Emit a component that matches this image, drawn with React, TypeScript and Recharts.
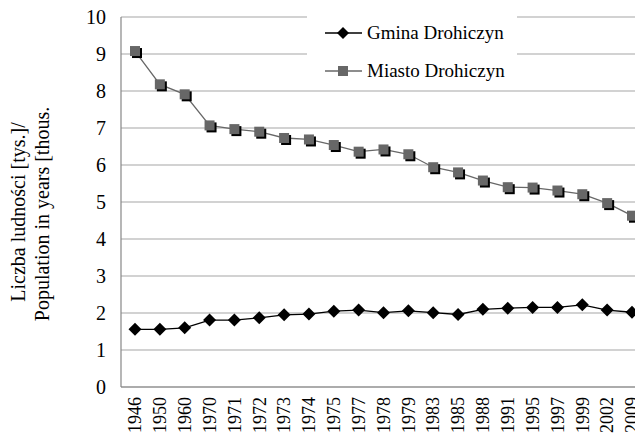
import { LineChart, Line, XAxis, YAxis, CartesianGrid } from "recharts";

// Population of Drohiczyn (thousands)
const YEARS = [
  "1946", "1950", "1960", "1970", "1971", "1972", "1973", "1974", "1975", "1977", "1978",
  "1979", "1983", "1985", "1988", "1991", "1995", "1997", "1999", "2002", "2009",
];
const GMINA = [
  1.56, 1.56, 1.6, 1.81, 1.81, 1.87, 1.95, 1.97, 2.05, 2.08, 2.01,
  2.06, 2.01, 1.96, 2.1, 2.13, 2.15, 2.15, 2.22, 2.08, 2.02,
];
const MIASTO = [
  9.08, 8.18, 7.91, 7.07, 6.97, 6.9, 6.73, 6.69, 6.54, 6.36, 6.42,
  6.29, 5.94, 5.8, 5.58, 5.4, 5.39, 5.31, 5.21, 4.97, 4.63,
];
const Y_TICKS = [0, 1, 2, 3, 4, 5, 6, 7, 8, 9, 10];
const SERIES = [
  { key: "gmina", name: "Gmina Drohiczyn" },
  { key: "miasto", name: "Miasto Drohiczyn" },
];

const data = YEARS.map((y, i) => ({ year: y, gmina: GMINA[i], miasto: MIASTO[i] }));

const FONT = "'Liberation Serif', 'Times New Roman', serif";
const SQUARE = "#676767";
const GRID = "#a6a6a6";
const AXIS = "#868686";

function Diamond({ cx, cy }: any) {
  if (cx == null || cy == null) return null;
  const r = 6.5;
  return (
    <polygon
      points={`${cx},${cy - r} ${cx + r},${cy} ${cx},${cy + r} ${cx - r},${cy}`}
      fill="#000"
    />
  );
}

function Square({ cx, cy }: any) {
  if (cx == null || cy == null) return null;
  return (
    <g>
      <rect x={cx - 5 + 2} y={cy - 5 + 2} width={10} height={10} fill="#000" />
      <rect x={cx - 5} y={cy - 5} width={10} height={10} fill={SQUARE} />
    </g>
  );
}

function YearTick({ x, y, payload }: any) {
  const top = y + 2;
  return (
    <text
      x={x}
      y={top}
      dy="0.35em"
      transform={`rotate(-90 ${x} ${top})`}
      textAnchor="end"
      fontSize={18}
      fontFamily={FONT}
      fill="#000"
    >
      {payload.value}
    </text>
  );
}

// legend drawn as an overlay box so it doesn't steal plot height
function LegendBox() {
  return (
    <div
      style={{
        position: "absolute",
        left: 307,
        top: 14,
        width: 210,
        height: 72,
        background: "#fff",
        fontFamily: FONT,
        fontSize: 19,
        color: "#000",
      }}
    >
      {SERIES.map((s, i) => (
        <div key={s.key} style={{ height: 38, display: "flex", alignItems: "center" }}>
          <svg width={60} height={38} style={{ display: "block", flex: "none" }}>
            <line x1={18} y1={19} x2={55} y2={19} stroke={i === 0 ? "#000" : SQUARE} strokeWidth={1.3} />
            {i === 0 ? (
              <polygon points="36,13 42,19 36,25 30,19" fill="#000" />
            ) : (
              <rect x={31} y={14} width={10} height={10} fill={SQUARE} />
            )}
          </svg>
          <span style={{ whiteSpace: "nowrap" }}>{s.name}</span>
        </div>
      ))}
    </div>
  );
}

export default function App() {
  return (
    <div style={{ position: "relative", width: 635, height: 443, overflow: "hidden", background: "#fff" }}>
      <style>{`body{margin:0}`}</style>
      <LineChart width={646} height={443} data={data} margin={{ top: 17, right: 0, bottom: 0, left: 0 }}>
        <CartesianGrid vertical={false} stroke={GRID} strokeWidth={1.2} />
        <XAxis
          dataKey="year"
          height={56}
          padding={{ left: 14, right: 14 }}
          tick={<YearTick />}
          tickLine={false}
          axisLine={{ stroke: AXIS, strokeWidth: 1.2 }}
          interval={0}
        />
        <YAxis
          width={121}
          domain={[0, 10]}
          ticks={Y_TICKS}
          tickSize={0}
          tickMargin={15}
          tickLine={false}
          axisLine={{ stroke: AXIS, strokeWidth: 1.2 }}
          tick={{ fontSize: 20, fontFamily: FONT, fill: "#000" }}
        />
        <Line
          dataKey="gmina"
          name="Gmina Drohiczyn"
          stroke="#000"
          strokeWidth={1.3}
          dot={<Diamond />}
          activeDot={false}
          isAnimationActive={false}
        />
        <Line
          dataKey="miasto"
          name="Miasto Drohiczyn"
          stroke={SQUARE}
          strokeWidth={1.3}
          dot={<Square />}
          activeDot={false}
          isAnimationActive={false}
        />
      </LineChart>
      <LegendBox />
      <svg
        width={100}
        height={443}
        style={{ position: "absolute", left: 0, top: 0, pointerEvents: "none" }}
      >
        <text
          x={25}
          y={212}
          transform="rotate(-90 25 212)"
          textAnchor="middle"
          fontSize={20}
          fontFamily={FONT}
        >
          Liczba ludności [tys.]/
        </text>
        <text
          x={49}
          y={214}
          transform="rotate(-90 49 214)"
          textAnchor="middle"
          fontSize={20}
          fontFamily={FONT}
        >
          Population in years [thous.
        </text>
      </svg>
    </div>
  );
}
